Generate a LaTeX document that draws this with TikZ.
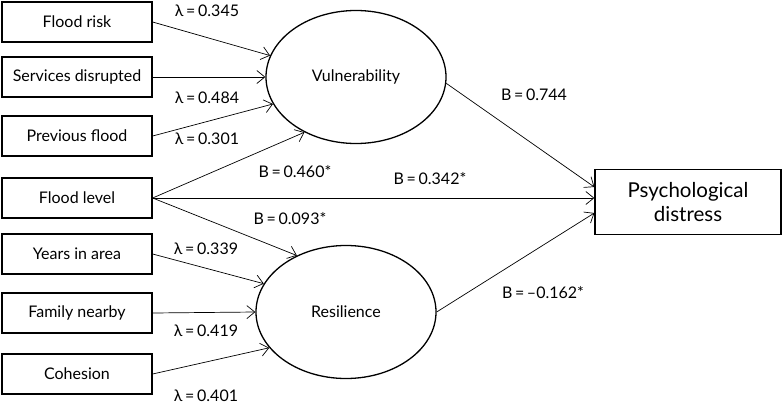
\documentclass[tikz,border=0pt]{standalone}
\usepackage{fontspec}
\setmainfont{Lato}
\usetikzlibrary{positioning, shapes.geometric, arrows.meta}

\begin{document}
\begin{tikzpicture}[
			x=1pt, y=-1pt
			,every node/.append style={font=\fontsize{16}{19}\selectfont}
			,item/.style={draw, line width=1.3pt, minimum width=150pt, minimum height=40pt, inner sep=0pt}
			,latent/.style={ellipse, draw, line width=1.3pt, minimum width=180pt, minimum height=133pt, inner sep=0pt}
			,outcome/.style={draw, line width=1.3pt, minimum width=186pt, minimum height=65pt, inner sep=0pt, align=center, font=\fontsize{20.5}{24}\selectfont}
			,load/.style={-{Straight Barb[length=8pt, width=13pt]}, line width=0.7pt}
			,coef/.style={inner sep=0pt}
		]
			\useasboundingbox (0,0) rectangle (782,407);
			\node [item] (fr) at (77,22) {Flood risk};
			\node [item] (sd) at (77,77) {Services disrupted};
			\node [item] (pf) at (77,136) {Previous flood};
			\node [item] (fl) at (77,198) {Flood level};
			\node [item] (yr) at (77,254) {Years in area};
			\node [item] (fn) at (77,313) {Family nearby};
			\node [item] (co) at (77,374) {Cohesion};
			\node [latent] (vul) at (356,77) {Vulnerability};
			\node [latent] (res) at (346,312) {Resilience};
			\node [outcome] (pd) at (688,202) {Psychological\\distress};

			\draw [load] (fr.east) -- (vul.166);
			\draw [load] (sd.east) -- (vul.180);
			\draw [load] (pf.east) -- (vul.198);
			\draw [load] (fl.east) -- (vul.227);
			\draw [load] (fl.east) -- (fl -| pd.west);
			\draw [load] (fl.east) -- (res.131);
			\draw [load] (yr.east) -- (res.161);
			\draw [load] (fn.east) -- (res.180);
			\draw [load] (co.east) -- (res.205);
			\draw [load] (vul.356) -- ([yshift=15pt]pd.west);
			\draw [load] (res.0) -- ([yshift=-11pt]pd.west);

			\node [coef] (l1) at (207,11) {λ\,=\,0.345};
			\node [coef] (l2) at (207,98) {λ\,=\,0.484};
			\node [coef] (l3) at (207,139) {λ\,=\,0.301};
			\node [coef] (l4) at (206,249) {λ\,=\,0.339};
			\node [coef] (l5) at (206,331) {λ\,=\,0.419};
			\node [coef] (l6) at (206,396) {λ\,=\,0.401};
			\node [coef] (b1) at (295,172) {B\,=\,0.460*};
			\node [coef] (b2) at (430,179) {B\,=\,0.342*};
			\node [coef] (b3) at (290,219) {B\,=\,0.093*};
			\node [coef] (b4) at (534,95) {B\,=\,0.744};
			\node [coef] (b5) at (543,293) {B\,=\,–0.162*};
		\end{tikzpicture}
\end{document}
